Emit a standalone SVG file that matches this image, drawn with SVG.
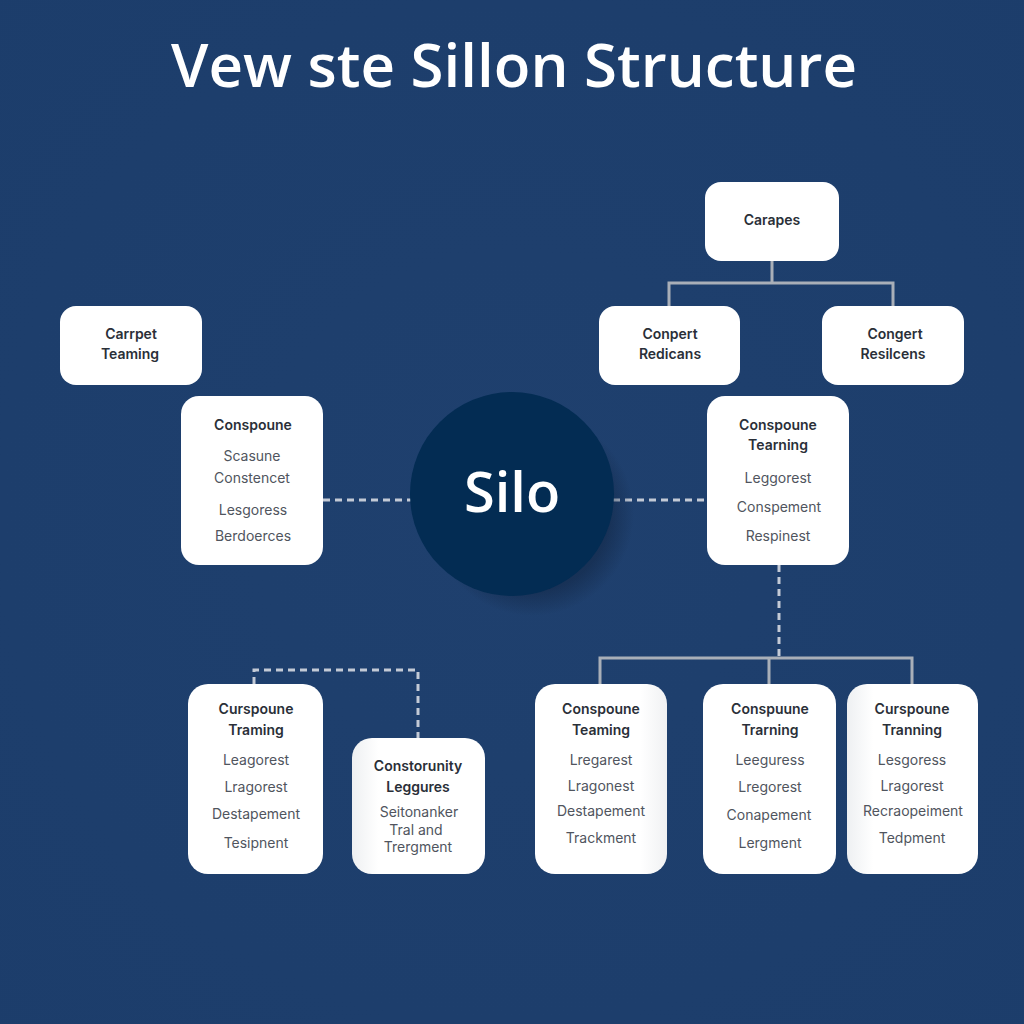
<svg xmlns="http://www.w3.org/2000/svg" width="1024" height="1024" viewBox="0 0 1024 1024">
<defs>
<radialGradient id="bg" cx="50%" cy="50%" r="75%"><stop offset="0" stop-color="#1f406e"/><stop offset="1" stop-color="#1c3d6b"/></radialGradient>
<linearGradient id="shadeL" x1="0" x2="1" y1="0" y2="0"><stop offset="0" stop-color="#eef0f2"/><stop offset="0.2" stop-color="#fff"/><stop offset="1" stop-color="#fff"/></linearGradient>
<linearGradient id="shadeR" x1="0" x2="1" y1="0" y2="0"><stop offset="0" stop-color="#fff"/><stop offset="0.8" stop-color="#fff"/><stop offset="1" stop-color="#f0f1f3"/></linearGradient>
<radialGradient id="cs" cx="50%" cy="50%" r="50%"><stop offset="0.75" stop-color="#10233f" stop-opacity="0.5"/><stop offset="1" stop-color="#10233f" stop-opacity="0"/></radialGradient>
</defs>
<style>
text{font-family:"Inter","Liberation Sans",sans-serif;text-anchor:middle}
.box{fill:#fff}
.h{font-size:14px;font-weight:600;fill:#2a2f38}
.b{font-size:14px;font-weight:400;fill:#50555e}
.solid{fill:none;stroke:#a9afb8;stroke-width:3}
.dash{fill:none;stroke:#c3cad6;stroke-width:3;stroke-dasharray:7 5}
</style>
<rect width="1024" height="1024" fill="url(#bg)"/>
<text x="514" y="87" font-size="60" font-weight="600" fill="#fff" style="font-family:'Open Sans','Liberation Sans',sans-serif">Vew ste Sillon Structure</text>
<g id="connectors">
<path class="solid" d="M772 261V283M669 306V283H893V306"/>
<path class="solid" d="M600 684V658H912V684M769 658V684"/>
<path class="dash" d="M323 500H411M613 500H707"/>
<path class="dash" d="M779 565V658"/>
<path class="dash" d="M254 684V670H418V738"/>
</g>
<g id="silo">
<circle cx="532" cy="514" r="102" fill="url(#cs)"/>
<circle cx="512" cy="494" r="102" fill="#032c53"/>
<text x="512" y="512" font-size="56" font-weight="600" fill="#fff" style="font-family:'Open Sans','Liberation Sans',sans-serif">Silo</text>
</g>
<g id="n-carapes"><rect class="box" x="705" y="182" width="134" height="79" rx="16"/><text class="h" x="772" y="225">Carapes</text></g>
<g id="n-carpet"><rect class="box" x="60" y="306" width="142" height="79" rx="16"/><text class="h" x="131" y="339">Carrpet</text><text class="h" x="130" y="359">Teaming</text></g>
<g id="n-conpert"><rect class="box" x="599" y="306" width="141" height="79" rx="16"/><text class="h" x="670" y="339">Conpert</text><text class="h" x="670" y="359">Redicans</text></g>
<g id="n-congert"><rect class="box" x="822" y="306" width="142" height="79" rx="16"/><text class="h" x="895" y="339">Congert</text><text class="h" x="893" y="359">Resilcens</text></g>
<g id="n-left"><rect class="box" x="181" y="396" width="142" height="169" rx="18"/><text class="h" x="253" y="430">Conspoune</text><text class="b" x="252" y="461">Scasune</text><text class="b" x="252" y="483">Constencet</text><text class="b" x="253" y="515">Lesgoress</text><text class="b" x="253" y="541">Berdoerces</text></g>
<g id="n-right"><rect class="box" x="707" y="396" width="142" height="169" rx="18"/><text class="h" x="778" y="430">Conspoune</text><text class="h" x="778" y="450">Tearning</text><text class="b" x="778" y="483">Leggorest</text><text class="b" x="779" y="512">Conspement</text><text class="b" x="778" y="541">Respinest</text></g>
<g id="n-b1"><rect class="box" x="188" y="684" width="135" height="190" rx="20"/><text class="h" x="256" y="714">Curspoune</text><text class="h" x="256" y="735">Traming</text><text class="b" x="256" y="765">Leagorest</text><text class="b" x="256" y="792">Lragorest</text><text class="b" x="256" y="819">Destapement</text><text class="b" x="256" y="848">Tesipnent</text></g>
<g id="n-b2"><rect x="352" y="738" width="133" height="136" rx="20" fill="url(#shadeL)"/><text class="h" x="418" y="771">Constorunity</text><text class="h" x="418" y="792">Leggures</text><text class="b" x="419" y="817">Seitonanker</text><text class="b" x="416" y="835">Tral and</text><text class="b" x="418" y="852">Trergment</text></g>
<g id="n-b3"><rect x="535" y="684" width="132" height="190" rx="20" fill="url(#shadeR)"/><text class="h" x="601" y="714">Conspoune</text><text class="h" x="601" y="735">Teaming</text><text class="b" x="601" y="765">Lregarest</text><text class="b" x="601" y="791">Lragonest</text><text class="b" x="601" y="816">Destapement</text><text class="b" x="601" y="843">Trackment</text></g>
<g id="n-b4"><rect class="box" x="703" y="684" width="133" height="190" rx="20"/><text class="h" x="770" y="714">Conspuune</text><text class="h" x="770" y="735">Trarning</text><text class="b" x="770" y="765">Leeguress</text><text class="b" x="770" y="792">Lregorest</text><text class="b" x="769" y="820">Conapement</text><text class="b" x="770" y="848">Lergment</text></g>
<g id="n-b5"><rect x="847" y="684" width="131" height="190" rx="20" fill="url(#shadeL)"/><text class="h" x="912" y="714">Curspoune</text><text class="h" x="912" y="735">Tranning</text><text class="b" x="912" y="765">Lesgoress</text><text class="b" x="912" y="791">Lragorest</text><text class="b" x="913" y="816">Recraopeiment</text><text class="b" x="912" y="843">Tedpment</text></g>
</svg>
